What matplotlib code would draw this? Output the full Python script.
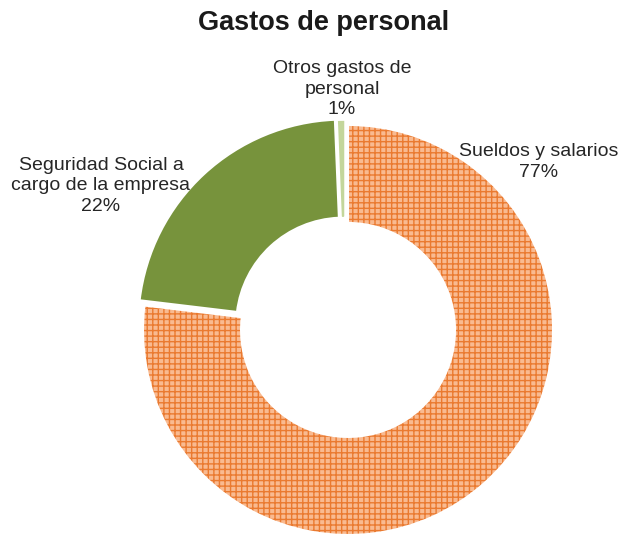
import matplotlib
matplotlib.use("Agg")
import matplotlib.pyplot as plt
from matplotlib.colors import to_rgba

plt.rcParams['font.family'] = ['Liberation Sans', 'DejaVu Sans']
plt.rcParams['hatch.linewidth'] = 1.0

title = "Gastos de personal"
categories = ["Sueldos y salarios", "Seguridad Social a\ncargo de la empresa", "Otros gastos de\npersonal"]
values = [76.9, 22.45, 0.65]
pct_labels = ["77%", "22%", "1%"]
explode = [0.02, 0.015, 0.01]
face_colors = ["#F9BA90", "#77933C", "#C3D69B"]
hatches = ["+++", None, None]
hatch_colors = ["#EA7A30", None, None]

W, H = 623, 535
fig = plt.figure(figsize=(W / 100, H / 100), dpi=100)
ax = fig.add_axes([0, 0, 1, 1])

wedges, _ = ax.pie(values, explode=explode, colors=face_colors, startangle=90,
                   counterclock=False, radius=1.0,
                   wedgeprops=dict(width=0.478, linewidth=1.44, edgecolor='white'))
for w, h, hc in zip(wedges, hatches, hatch_colors):
    if h:
        w.set_hatch(h)
        if hasattr(w, 'set_hatchcolor'):
            w.set_hatchcolor(hc)
        else:
            w._hatch_color = to_rgba(hc)

cx, cy, R = 345.3, 326.9, 205.0
ax.set_xlim(-cx / R, (W - cx) / R)
ax.set_ylim(-(H - cy) / R, cy / R)
ax.set_aspect('auto')
ax.axis('off')

fig.text(324 / W, 1 - 23 / H, title, ha='center', va='center',
         fontsize=19.5, fontweight='bold', color='#1a1a1a')

label_pos = [(539, 162), (101, 186), (342, 89)]
for (x, y), cat, pct in zip(label_pos, categories, pct_labels):
    fig.text(x / W, 1 - y / H, cat + "\n" + pct, ha='center', va='center',
             fontsize=14, color='#262626', linespacing=1.25)

fig.savefig("out.png", dpi=100)
